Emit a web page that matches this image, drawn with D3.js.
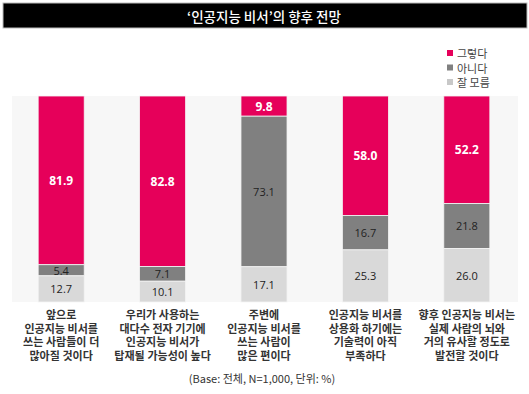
<!DOCTYPE html>
<html><head><meta charset="utf-8">
<script src="https://cdn.jsdelivr.net/npm/d3@7"></script>
<style>
html,body{margin:0;padding:0;background:#fff;}
svg{display:block;font-family:"Noto Sans CJK KR","Noto Sans",sans-serif;}
</style></head>
<body>
<svg id="c" width="529" height="394"></svg>
<script>
const categories = [
  ["앞으로","인공지능 비서를","쓰는 사람들이 더","많아질 것이다"],
  ["우리가 사용하는","대다수 전자 기기에","인공지능 비서가","탑재될 가능성이 높다"],
  ["주변에","인공지능 비서를","쓰는 사람이","많은 편이다"],
  ["인공지능 비서를","상용화 하기에는","기술력이 아직","부족하다"],
  ["향후 인공지능 비서는","실제 사람의 뇌와","거의 유사할 정도로","발전할 것이다"]
];
const seriesNames = ["그렇다","아니다","잘 모름"];
const yes = [81.9, 82.8, 9.8, 58.0, 52.2];
const no = [5.4, 7.1, 73.1, 16.7, 21.8];
const unknown = [12.7, 10.1, 17.1, 25.3, 26.0];
const colors = ["#e6005a","#808080","#d9d9d9"];
const title = "‘인공지능 비서’의 향후 전망";
const footnote = "(Base: 전체, N=1,000, 단위: %)";

const svg = d3.select("#c");

// title bar
svg.append("rect").attr("x",3).attr("y",3).attr("width",524).attr("height",25)
  .attr("fill","#000").attr("stroke","#bbb").attr("stroke-width",1);
svg.append("text").attr("x",264).attr("y",16).attr("text-anchor","middle")
  .attr("dominant-baseline","central").attr("fill","#fff")
  .attr("font-size",13.5).attr("font-weight",500).text(title);

// plot area
const pL = 12, pR = 518, pT = 96, pB = 302;
svg.append("rect").attr("x",pL).attr("y",pT).attr("width",pR-pL).attr("height",pB-pT).attr("fill","#f7f7f7");

const x = d3.scaleBand().domain(d3.range(categories.length)).range([12, 516]).paddingInner(0.546).paddingOuter(0.258);
const y = d3.scaleLinear().domain([0,100]).range([pT,pB]);

const data = categories.map((c,i)=>({i, vals:[yes[i],no[i],unknown[i]]}));
const stackData = data.map(d=>{let acc=0; return d.vals.map((v,k)=>{const s={i:d.i,k,v,y0:acc,y1:acc+v}; acc+=v; return s;});}).flat();

svg.append("g").selectAll("rect").data(stackData).join("rect")
  .attr("x",d=>x(d.i)).attr("width",x.bandwidth())
  .attr("y",d=>y(d.y0)).attr("height",d=>y(d.y1)-y(d.y0))
  .attr("fill",d=>colors[d.k]).attr("stroke","#f4f4f4").attr("stroke-width",0.8);

svg.append("g").selectAll("text").data(stackData).join("text")
  .attr("x",d=>x(d.i)+x.bandwidth()/2)
  .attr("y",d=>(y(d.y0)+y(d.y1))/2)
  .attr("text-anchor","middle").attr("dominant-baseline","central")
  .attr("font-family","'Open Sans','Noto Sans',sans-serif")
  .attr("font-size",d=>d.k===0?12:11)
  .attr("font-weight",d=>d.k===0?700:400)
  .attr("fill",d=>d.k===0?"#fff":"#222")
  .text(d=>d.v.toFixed(1));

// category labels
const lab = svg.append("g");
categories.forEach((lines,i)=>{
  lines.forEach((ln,j)=>{
    lab.append("text").attr("text-anchor","middle")
      .attr("font-family","Lato,'Noto Sans CJK KR',sans-serif")
      .attr("font-size",11).attr("font-weight",700).attr("fill","#333")
      .attr("x",x(i)+x.bandwidth()/2).attr("y",319+j*13.5).text(ln);
  });
});

// legend
const lg = svg.append("g");
seriesNames.forEach((n,k)=>{
  lg.append("rect").attr("x",447).attr("y",50+k*14.5).attr("width",6).attr("height",6).attr("fill",colors[k]==="#d9d9d9"?"#c8c8c8":colors[k]);
  lg.append("text").attr("x",457).attr("y",53+k*14.5).attr("dominant-baseline","central")
    .attr("font-size",11).attr("fill","#444").text(n);
});

// footnote
svg.append("text").attr("x",262).attr("y",378).attr("text-anchor","middle")
  .attr("dominant-baseline","central").attr("font-size",11).attr("fill","#333").text(footnote);
</script>
</body></html>
